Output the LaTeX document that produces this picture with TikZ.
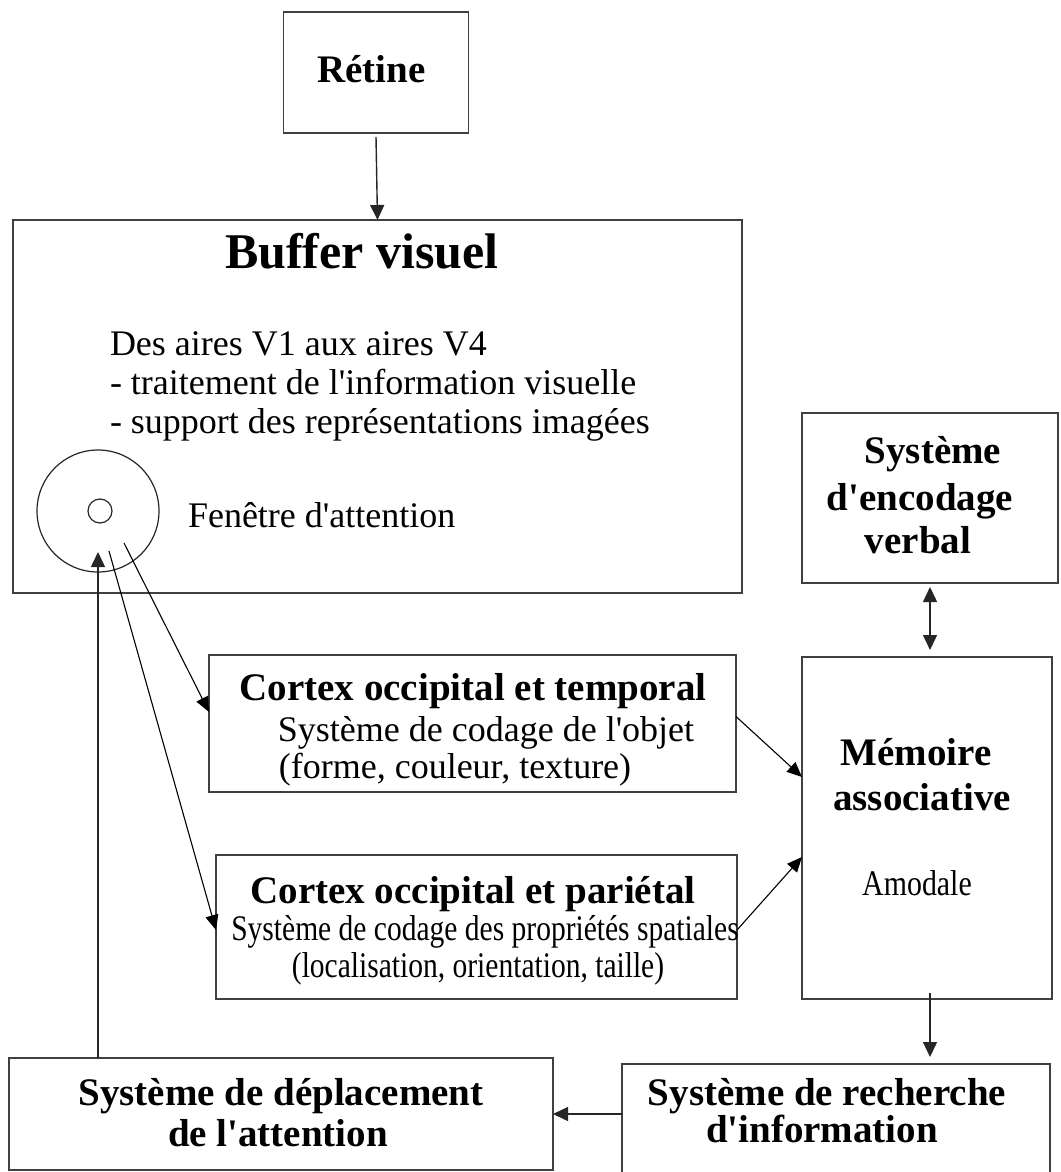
\documentclass[tikz,border=0pt]{standalone}
\usepackage{fontspec}
\setmainfont{Liberation Serif}
\usepackage{graphicx}
\usetikzlibrary{arrows.meta,calc}
\newcommand\fhd{\fontsize{39}{45}\selectfont\bfseries}
\newcommand\fbd{\fontsize{36}{41}\selectfont}
\newcommand\fttl{\fontsize{50}{58}\selectfont\bfseries}
\newcommand\qs{\textquotesingle}
\begin{document}
\begin{tikzpicture}[x=1pt,y=-1pt,
  box/.style={draw=black!75,line width=1.3pt,rectangle,inner sep=0pt,outer sep=0pt},
  ring/.style={draw=black!85,line width=1.2pt,circle,inner sep=0pt,outer sep=0pt},
  txt/.style={inner sep=0pt,outer sep=0pt,anchor=base},
  ltxt/.style={inner sep=0pt,outer sep=0pt,anchor=base west},
  arr/.style={line width=1.4pt,draw=black!85,-{Triangle[length=15pt,width=14pt]}},
  darr/.style={line width=1.4pt,draw=black!85,{Triangle[length=15pt,width=14pt]}-{Triangle[length=15pt,width=14pt]}},
  tarr/.style={line width=1.1pt,draw=black,-{Triangle[length=15pt,width=13pt]}}]
\useasboundingbox (0,0) rectangle (1060,1172);
% boxes
\node[box,minimum width=185pt,minimum height=121pt] (ret) at (376,72.5) {};
\node[box,minimum width=729pt,minimum height=373pt] (buf) at (377.5,406.5) {};
\node[box,minimum width=256pt,minimum height=170pt] (enc) at (930,498) {};
\node[box,minimum width=527pt,minimum height=137pt] (tmp) at (472.5,723.5) {};
\node[box,minimum width=521pt,minimum height=144pt] (par) at (476.5,927) {};
\node[box,minimum width=250pt,minimum height=342pt] (mem) at (927,828) {};
\node[box,minimum width=544pt,minimum height=112pt] (dep) at (281,1114) {};
\node[box,minimum width=428pt,minimum height=114pt] (rec) at (836,1121) {};
\node[ring,minimum size=122pt] (win) at (98,511) {};
\node[ring,minimum size=24pt] (pupil) at (100,511) {};
% texts
\node[txt,font=\fhd] (tRet) at (371.5,82) {Rétine};
\node[ltxt,font=\fttl] (tBuf) at (225,268) {Buffer visuel};
\node[ltxt,font=\fbd] (tB1) at (110,355) {Des aires V1 aux aires V4};
\node[ltxt,font=\fbd] (tB2) at (110,394) {- traitement de l\qs information visuelle};
\node[ltxt,font=\fbd] (tB3) at (110,433) {- support des représentations imagées};
\node[ltxt,font=\fbd] (tFen) at (188,527) {Fenêtre d\qs attention};
\node[txt,font=\fhd] (tE1) at (933,463) {Système};
\node[txt,font=\fhd] (tE2) at (920,510) {d\qs encodage};
\node[txt,font=\fhd] (tE3) at (918,553) {verbal};
\node[txt,font=\fhd] (tT1) at (473,700) {Cortex occipital et temporal};
\node[txt,font=\fbd] (tT2) at (486,741) {Système de codage de l\qs objet};
\node[txt,font=\fbd] (tT3) at (455,778) {(forme, couleur, texture)};
\node[txt,font=\fhd] (tP1) at (473,903) {Cortex occipital et pariétal};
\node[txt,font=\fbd] (tP2) at (485,940) {\scalebox{0.82}[1]{Système de codage des propriétés spatiales}};
\node[txt,font=\fbd] (tP3) at (478,977) {\scalebox{0.82}[1]{(localisation, orientation, taille)}};
\node[txt,font=\fhd] (tM1) at (916,765) {Mémoire};
\node[txt,font=\fhd] (tM2) at (922,810) {associative};
\node[txt,font=\fbd] (tM3) at (917,895) {\scalebox{0.83}[1]{Amodale}};
\node[txt,font=\fhd] (tD1) at (281,1105) {Système de déplacement};
\node[txt,font=\fhd] (tD2) at (278,1146) {de l\qs attention};
\node[txt,font=\fhd] (tR1) at (827,1105) {Système de recherche};
\node[txt,font=\fhd] (tR2) at (822,1142) {d\qs information};
% connectors
\draw[arr] ([yshift=-4pt]ret.south) -- (buf.north);
\draw[darr] ([yshift=-4pt]enc.south) -- ([yshift=7pt]enc.south |- mem.north);
\coordinate (w1) at ($(win.center)+(26,32)$);
\coordinate (w2) at ($(win.center)+(11,40)$);
\draw[tarr] (w1) -- ($(tmp.west)+(0,-11.5)$);
\draw[tarr] (w2) -- ($(par.west)+(0,3)$);
\draw[tarr] ($(tmp.east)+(0,-7)$) -- ($(mem.west)+(0,-51)$);
\draw[tarr] ($(par.east)+(0,3)$) -- ($(mem.west)+(0,29)$);
\draw[arr] ([yshift=6pt]mem.south -| enc.south) -- ([yshift=7pt]rec.north -| enc.south);
\draw[arr] (rec.west |- dep.east) -- (dep.east);
\draw[arr] (dep.north -| win.center) -- ($(win.center)+(0,41)$);
\end{tikzpicture}
\end{document}
